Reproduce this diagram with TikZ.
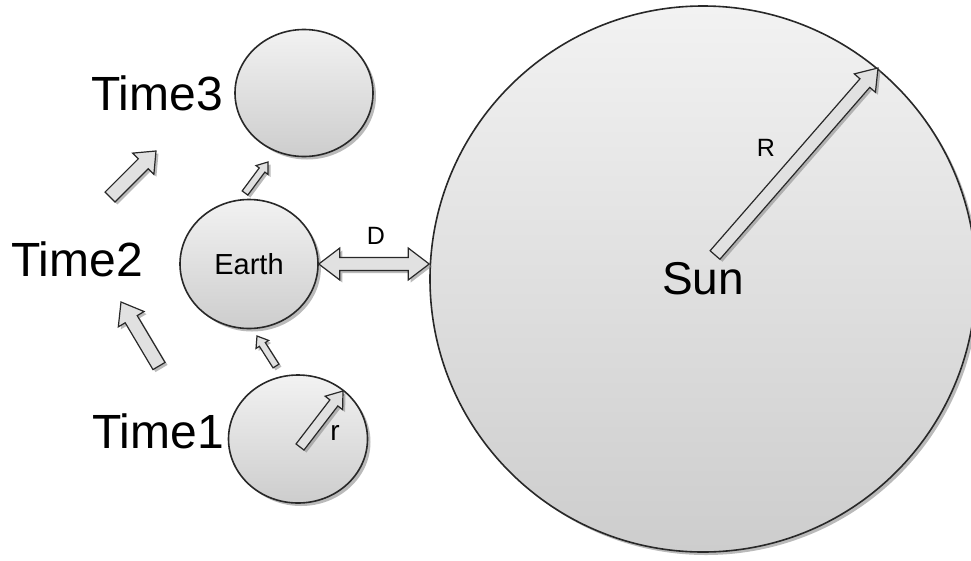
\documentclass[tikz,border=0pt]{standalone}
\usepackage{fontspec}
\setmainfont{Liberation Sans}
\usetikzlibrary{calc,shapes.geometric,shadows}
\definecolor{topc}{RGB}{242,242,242}
\definecolor{botc}{RGB}{205,205,205}
\definecolor{arrowc}{RGB}{225,225,225}
\definecolor{linec}{RGB}{40,40,40}
\tikzset{
  body/.style={ellipse, draw=linec, line width=1.6pt, top color=topc, bottom color=botc, inner sep=0pt,
    drop shadow={shadow xshift=3pt, shadow yshift=-3pt, fill=black!45, opacity=0.6}},
  blk/.style={draw=linec, line width=1.2pt, fill=arrowc, line join=miter,
    drop shadow={shadow xshift=2.5pt, shadow yshift=-2.5pt, fill=black!45, opacity=0.6}},
  bigtxt/.style={font=\fontsize{48}{48}\selectfont, inner sep=0pt},
  smalltxt/.style={font=\fontsize{25}{25}\selectfont, inner sep=0pt}
}
% #1 tail, #2 tip, #3 half shaft, #4 half head, #5 head length
\newcommand\blockarrow[5]{%
  \coordinate (ba@b) at ($(#2)!#5!(#1)$);
  \path[blk] ($(#1)!#3!90:(#2)$) -- ($(ba@b)!#3!90:(#2)$) -- ($(ba@b)!#4!90:(#2)$) -- (#2)
    -- ($(ba@b)!#4!-90:(#2)$) -- ($(ba@b)!#3!-90:(#2)$) -- ($(#1)!#3!-90:(#2)$) -- cycle;
}
% double headed: #1 end A, #2 end B, #3 half shaft, #4 half head, #5 head length
\newcommand\doubleblockarrow[5]{%
  \coordinate (ba@a) at ($(#1)!#5!(#2)$);
  \coordinate (ba@b) at ($(#2)!#5!(#1)$);
  \path[blk] (#1) -- ($(ba@a)!#4!90:(#2)$) -- ($(ba@a)!#3!90:(#2)$) -- ($(ba@b)!#3!90:(#2)$)
    -- ($(ba@b)!#4!90:(#2)$) -- (#2) -- ($(ba@b)!#4!-90:(#2)$) -- ($(ba@b)!#3!-90:(#2)$)
    -- ($(ba@a)!#3!-90:(#2)$) -- ($(ba@a)!#4!-90:(#2)$) -- cycle;
}
\begin{document}
\begin{tikzpicture}[x=1pt,y=-1pt]
\useasboundingbox (0,0) rectangle (971,560);
% bodies
\node[body, minimum width=546pt, minimum height=546pt, font=\fontsize{46}{46}\selectfont] (sun) at (703,279) {Sun};
\node[body, minimum width=138pt, minimum height=127pt] (t3) at (304,93) {};
\node[body, minimum width=138pt, minimum height=129pt, font=\fontsize{29}{29}\selectfont] (earth) at (249,264) {Earth};
\node[body, minimum width=139pt, minimum height=128pt] (t1) at (298,439) {};
% labels
\node[bigtxt] (lt3) at (157,93) {Time3};
\node[bigtxt] (lt2) at (77,259) {Time2};
\node[bigtxt] (lt1) at (158,431) {Time1};
\node[smalltxt] (lR) at (766,148) {R};
\node[smalltxt] (lD) at (376,236) {D};
\node[font=\fontsize{28}{28}\selectfont, inner sep=0pt] (lr) at (335,433) {r};
% arrow endpoints
\coordinate (Rtail) at (715,255);
\coordinate (Rtip) at (878,68);
\coordinate (rtail) at (300,447);
\coordinate (rtip) at (343,391);
\coordinate (a23t) at (110,197);
\coordinate (a23h) at (156,151);
\coordinate (a12t) at (159,366);
\coordinate (a12h) at (121,302);
\coordinate (ae3t) at (245,193);
\coordinate (ae3h) at (268,162);
\coordinate (a1et) at (276,366);
\coordinate (a1eh) at (257,336);
\coordinate (dend) at (sun.west |- earth.east);
% arrows
\blockarrow{Rtail}{Rtip}{6.5pt}{14pt}{20pt}
\blockarrow{rtail}{rtip}{5pt}{11pt}{15pt}
\blockarrow{a23t}{a23h}{7pt}{15pt}{18pt}
\blockarrow{a12t}{a12h}{7pt}{15pt}{20pt}
\blockarrow{ae3t}{ae3h}{3.5pt}{7.5pt}{10pt}
\blockarrow{a1et}{a1eh}{3.5pt}{7.5pt}{10pt}
\doubleblockarrow{earth.east}{dend}{6.5pt}{16pt}{21pt}
\end{tikzpicture}
\end{document}
